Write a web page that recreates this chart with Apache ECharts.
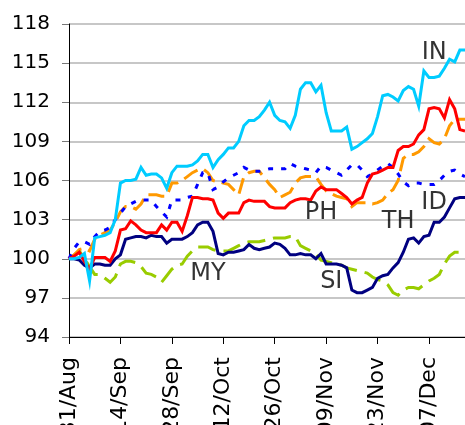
<!DOCTYPE html>
<html>
<head>
<meta charset="utf-8">
<script src="https://cdn.jsdelivr.net/npm/echarts@6/dist/echarts.min.js"></script>
<style>
    html, body {margin: 0; padding: 0; background: #fff;}
    #chart {width: 465px; height: 425px;}
</style>
</head>
<body>
<div id="chart"></div>
<script>
// business days from 31/Aug to mid December
var startDay = [2009, 7, 31];
var dayCount = 78;
var monthNames = ['Jan','Feb','Mar','Apr','May','Jun','Jul','Aug','Sep','Oct','Nov','Dec'];

var yTicks = [94, 97, 100, 103, 106, 109, 112, 115, 118];

var seriesNames = ['IN', 'PH', 'ID', 'TH', 'SI', 'MY'];

var inData = [100, 100, 100.1, 100.4, 98.3, 101.6, 101.7, 101.8, 102.0, 103.0,
    105.8, 106.0, 106.0, 106.1, 107.0, 106.4, 106.5, 106.5, 106.2, 105.4,
    106.6, 107.1, 107.1, 107.1, 107.2, 107.5, 108.0, 108.0, 107.0, 107.6,
    108.0, 108.5, 108.5, 109.0, 110.2, 110.6, 110.6, 110.9, 111.4, 112.0,
    111.0, 110.6, 110.5, 110.0, 111.0, 113.0, 113.5, 113.5, 112.8, 113.3,
    111.2, 109.8, 109.8, 109.8, 110.1, 108.4, 108.6, 108.9, 109.2, 109.6,
    110.9, 112.5, 112.6, 112.4, 112.1, 112.9, 113.2, 113.0, 111.7, 114.4,
    113.9, 113.9, 114.0, 114.6, 115.3, 115.1, 116.0, 116.0];

var phData = [100, 100.2, 100.5, 99.8, 99.2, 100.1, 100.1, 100.1, 99.8, 100.6,
    102.2, 102.3, 102.9, 102.6, 102.2, 102.0, 102.0, 102.0, 102.6, 102.2,
    102.8, 102.8, 102.1, 103.3, 104.7, 104.7, 104.6, 104.6, 104.5, 103.5,
    103.1, 103.5, 103.5, 103.5, 104.3, 104.5, 104.4, 104.4, 104.4, 104.0,
    103.9, 103.9, 103.9, 104.3, 104.5, 104.6, 104.6, 104.5, 105.2, 105.5,
    105.3, 105.3, 105.3, 105.0, 104.7, 104.2, 104.5, 104.7, 105.8, 106.5,
    106.6, 106.8, 107.0, 107.0, 108.3, 108.6, 108.6, 108.8, 109.5, 109.9,
    111.5, 111.6, 111.5, 110.8, 112.2, 111.5, 109.9, 109.8];

var idData = [100, 100, 99.9, 99.5, 99.3, 99.6, 99.6, 99.5, 99.5, 100.0,
    100.3, 101.5, 101.6, 101.7, 101.7, 101.6, 101.8, 101.7, 101.7, 101.2,
    101.5, 101.5, 101.5, 101.7, 102.0, 102.6, 102.8, 102.8, 102.1, 100.4,
    100.3, 100.5, 100.5, 100.6, 100.7, 101.1, 100.8, 100.7, 100.8, 100.9,
    101.2, 101.1, 100.8, 100.3, 100.3, 100.4, 100.3, 100.3, 100.0, 100.4,
    99.6, 99.6, 99.6, 99.5, 99.3, 97.6, 97.4, 97.4, 97.6, 97.8,
    98.5, 98.7, 98.8, 99.3, 99.7, 100.5, 101.5, 101.6, 101.2, 101.7,
    101.8, 102.8, 102.8, 103.2, 103.9, 104.6, 104.7, 104.7];

var thData = [100, 100.3, 100.7, 100.8, 100.6, 101.5, 101.8, 102.0, 102.2, 102.8,
    103.6, 104.0, 104.0, 103.8, 104.2, 104.9, 104.9, 104.9, 104.8, 104.8,
    105.8, 105.8, 106.0, 106.3, 106.6, 106.8, 106.9, 106.6, 106.0, 105.9,
    105.8, 105.7, 105.3, 104.9, 106.3, 106.6, 106.7, 106.7, 106.2, 105.7,
    105.3, 104.7, 104.9, 105.1, 105.8, 106.2, 106.3, 106.3, 106.3, 105.7,
    105.2, 105.0, 104.8, 104.7, 104.6, 104.0, 104.3, 104.3, 104.3, 104.2,
    104.3, 104.5, 105.0, 105.3, 106.0, 107.7, 108.0, 108.0, 108.2, 108.6,
    109.2, 108.9, 108.8, 109.2, 110.2, 110.7, 110.7, 110.7];

var siData = [100, 100.8, 101.3, 101.3, 101.1, 101.7, 102.1, 102.2, 102.4, 103.0,
    103.5, 104.0, 104.2, 104.4, 104.5, 104.5, 104.5, 104.0, 103.6, 103.2,
    104.5, 104.5, 104.5, 104.7, 104.8, 105.7, 106.6, 106.6, 105.3, 105.5,
    105.9, 106.2, 106.4, 106.6, 107.0, 106.8, 106.7, 106.7, 106.8, 106.9,
    106.9, 106.9, 106.9, 107.3, 107.1, 107.0, 106.9, 106.8, 106.6, 107.1,
    107.0, 106.8, 106.6, 106.4, 106.8, 107.2, 107.2, 106.8, 106.3, 106.5,
    106.8, 107.1, 107.3, 107.0, 106.5, 105.9, 105.6, 105.8, 105.8, 105.7,
    105.7, 105.7, 106.0, 106.4, 106.7, 106.8, 106.5, 106.3];

var myData = [100, 100.3, 100.6, 100.0, 99.4, 98.8, 98.8, 98.5, 98.2, 98.6,
    99.6, 99.8, 99.8, 99.7, 99.4, 98.9, 98.8, 98.6, 98.2, 98.7,
    99.2, 99.5, 99.6, 100.2, 100.6, 100.9, 100.9, 100.9, 100.7, 100.6,
    100.6, 100.6, 100.8, 101.0, 101.2, 101.3, 101.3, 101.3, 101.4, 101.5,
    101.6, 101.6, 101.6, 101.7, 101.7, 101.0, 100.8, 100.6, 100.4, 99.9,
    99.8, 99.7, 99.6, 99.5, 99.3, 99.2, 99.1, 99.0, 98.9, 98.6,
    98.4, 98.3, 98.0, 97.4, 97.2, 97.6, 97.8, 97.8, 97.7, 98.0,
    98.3, 98.5, 98.8, 99.6, 100.2, 100.5, 100.5, 100.5];

// where the country names sit: [day index, value, name]
var nameSpots = [
    [71, 115.8, 'IN'],
    [49, 103.5, 'PH'],
    [64, 102.85, 'TH'],
    [71, 104.3, 'ID'],
    [27, 98.85, 'MY'],
    [51, 98.2, 'SI']
];

function makeDays() {
    var out = [];
    var d = new Date(startDay[0], startDay[1], startDay[2]);
    while (out.length < dayCount) {
        var wd = d.getDay();
        if (wd != 0 && wd != 6) {
            var dd = d.getDate();
            out.push((dd < 10 ? '0' + dd : '' + dd) + '/' + monthNames[d.getMonth()]);
        }
        d.setDate(d.getDate() + 1);
    }
    return out;
}

function lineSeries(name, data, color, dash) {
    return {
        name: name,
        type: 'line',
        data: data,
        symbol: 'none',
        animation: false,
        lineStyle: {
            color: color,
            width: 3,
            type: dash || 'solid',
            cap: 'butt',
            join: 'miter'
        }
    };
}

function showChart() {
    var myChart = echarts.init(document.getElementById('chart'));
    var font = "'DejaVu Sans', sans-serif";
    var option = {
        animation: false,
        grid: {
            left: 69,
            right: 0,
            top: 24,
            bottom: 88,
            outerBoundsMode: 'none'
        },
        xAxis: {
            type: 'category',
            data: makeDays(),
            boundaryGap: false,
            axisLine: {
                lineStyle: {color: '#000', width: 1}
            },
            axisTick: {
                interval: 9,
                length: 7,
                lineStyle: {color: '#000'}
            },
            axisLabel: {
                interval: 9,
                rotate: 90,
                margin: 20,
                color: '#000',
                fontSize: 22,
                fontFamily: font
            },
            splitLine: {show: false}
        },
        yAxis: {
            type: 'value',
            min: yTicks[0],
            max: yTicks[yTicks.length - 1],
            interval: 3,
            axisLine: {
                show: true,
                lineStyle: {color: '#000', width: 1}
            },
            axisTick: {
                show: true,
                length: 7,
                lineStyle: {color: '#777'}
            },
            axisLabel: {
                margin: 19,
                color: '#000',
                fontSize: 20,
                fontFamily: font
            },
            splitLine: {
                lineStyle: {color: '#b4b4b4', width: 1.5}
            }
        },
        series: [
            lineSeries(seriesNames[5], myData, '#99cc00', [18, 8]),
            lineSeries(seriesNames[3], thData, '#ff9900', [16, 7]),
            lineSeries(seriesNames[4], siData, '#0000ff', [5, 8]),
            lineSeries(seriesNames[2], idData, '#000080'),
            lineSeries(seriesNames[1], phData, '#ff0000'),
            lineSeries(seriesNames[0], inData, '#00ccff'),
            {
                type: 'scatter',
                data: nameSpots,
                symbolSize: 1,
                itemStyle: {color: 'rgba(0,0,0,0)'},
                z: 10,
                label: {
                    show: true,
                    position: 'inside',
                    formatter: function (p) { return p.data[2]; },
                    color: '#000',
                    fontSize: 24,
                    fontFamily: font
                }
            }
        ]
    };
    myChart.setOption(option);
}

showChart();
</script>
</body>
</html>
